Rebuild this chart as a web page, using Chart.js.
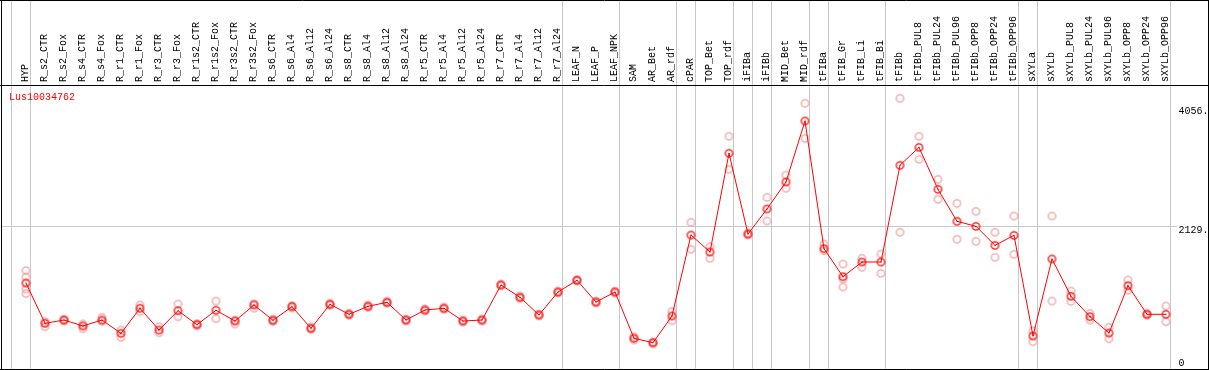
<!DOCTYPE html>
<html>
<head>
<meta charset="utf-8">
<script src="https://cdn.jsdelivr.net/npm/chart.js@4.4.1/dist/chart.umd.min.js"></script>
<style>
  html, body { margin: 0; padding: 0; background: #fff; }
  #wrap { width: 1209px; height: 370px; }
</style>
</head>
<body>
<div id="wrap"><canvas id="chart" width="1209" height="370"></canvas></div>
<script>
// =========================
//  DATA
// =========================
const geneName = "Lus10034762";

const categories = [
    "HYP", "R_s2_CTR", "R_s2_Fox", "R_s4_CTR", "R_s4_Fox", "R_r1_CTR", "R_r1_Fox",
    "R_r3_CTR", "R_r3_Fox", "R_r1s2_CTR", "R_r1s2_Fox", "R_r3s2_CTR", "R_r3s2_Fox",
    "R_s6_CTR", "R_s6_Al4", "R_s6_Al12", "R_s6_Al24", "R_s8_CTR", "R_s8_Al4", "R_s8_Al12",
    "R_s8_Al24", "R_r5_CTR", "R_r5_Al4", "R_r5_Al12", "R_r5_Al24", "R_r7_CTR", "R_r7_Al4",
    "R_r7_Al12", "R_r7_Al24", "LEAF_N", "LEAF_P", "LEAF_NPK", "SAM", "AR_Bet", "AR_rdf",
    "cPAR", "TOP_Bet", "TOP_rdf", "iFIBa", "iFIBb", "MID_Bet", "MID_rdf", "tFIBa",
    "tFIB_Gr", "tFIB_Li", "tFIB_Bi", "tFIBb", "tFIBb_PUL8", "tFIBb_PUL24", "tFIBb_PUL96",
    "tFIBb_OPP8", "tFIBb_OPP24", "tFIBb_OPP96", "sXYLa", "sXYLb", "sXYLb_PUL8",
    "sXYLb_PUL24", "sXYLb_PUL96", "sXYLb_OPP8", "sXYLb_OPP24", "sXYLb_OPP96"
];

// mean expression per sample
const meanValues = [
    1214, 565, 618, 522, 618, 404, 807, 457, 768, 543, 775, 602, 860,
    614, 833, 485, 871, 710, 839, 903, 618, 779, 807, 602, 618,
    1182, 984, 699, 1069, 1258, 908, 1069, 324, 253, 683,
    1987, 1713, 3303, 2003, 2406, 2841, 3823, 1767, 1316, 1552, 1552,
    3110, 3399, 2723, 2208, 2127, 1821, 1982,
    361, 1601, 1000, 672, 409, 1171, 710, 710
];

// individual replicates per sample
const replicateValues = [
    [1415, 1311, 1118, 1045], [591, 510], [630, 602], [554, 478], [662, 597],
    [457, 340], [860, 752], [510, 414], [876, 671], [562, 522], [924, 639],
    [618, 554], [881, 807], [634, 594], [852, 812], [506, 465], [892, 852],
    [731, 691], [860, 820], [924, 884], [634, 602], [796, 763], [828, 787],
    [618, 586], [634, 602], [1198, 1166], [1005, 965], [715, 683], [1085, 1053],
    [1271, 1246], [924, 892], [1085, 1053], [349, 296], [264, 232], [758, 607],
    [2192, 1757], [1799, 1612], [3577, 3045], [2019, 1987], [2594, 2213],
    [2953, 2739], [4108, 3544], [1842, 1734], [1520, 1279, 1150], [1612, 1467],
    [1681, 1370], [4188, 2031], [3577, 3206], [2884, 2562], [2498, 1918],
    [2369, 1886], [2031, 1628], [2293, 1676], [446, 269], [2293, 924],
    [1085, 919], [726, 618], [501, 317], [1262, 1097], [731, 691], [844, 591]
];

// group separators sit right after these sample indexes
const separatorsAfter = [-1, 0, 28, 31, 34, 35, 37, 38, 39, 41, 42, 45, 52, 53, 60];

const yTickValues = [0, 2129, 4056];
const yGridValue = 2129;

// =========================
//  MARKERS
// =========================
function makeMarker(color, dot) {
    const c = document.createElement("canvas");
    c.width = 11;
    c.height = 11;
    const g = c.getContext("2d");
    g.strokeStyle = color;
    g.lineWidth = 1.3;
    g.beginPath();
    g.arc(5.5, 5.5, 3.7, 0, Math.PI * 2);
    g.stroke();
    if (dot) {
        g.fillStyle = dot;
        g.fillRect(5, 5, 1, 1);
    }
    return c;
}

const meanMarker = makeMarker("#ff0000", "#700000");
const repMarker = makeMarker("#f0a0a0", null);

// =========================
//  BUILD POINTS
// =========================
const meanPoints = meanValues.map((v, i) => ({ x: i, y: v }));
const repPoints = [];
replicateValues.forEach((reps, i) => {
    reps.forEach(v => repPoints.push({ x: i, y: v }));
});

const sepSet = new Set(separatorsAfter);
const SEP_SHIFT = 0.221;
const GRID_GRAY = "#c8c8c8";
const MONO = "'Liberation Mono', 'DejaVu Sans Mono', monospace";

// =========================
//  PLUGINS
// =========================
const framePlugin = {
    id: "frame",
    afterDraw(chart) {
        const ctx = chart.ctx;
        const W = chart.width, H = chart.height;
        const top = chart.chartArea.top;
        ctx.save();
        ctx.strokeStyle = "#000";
        ctx.lineWidth = 1;
        ctx.beginPath();
        ctx.moveTo(0, 0.5); ctx.lineTo(W, 0.5);
        ctx.moveTo(0, H - 0.5); ctx.lineTo(W, H - 0.5);
        ctx.moveTo(1.5, 0); ctx.lineTo(1.5, H);
        ctx.moveTo(W - 0.5, 0); ctx.lineTo(W - 0.5, H);
        ctx.moveTo(0, top - 0.5); ctx.lineTo(W, top - 0.5);
        ctx.stroke();

        ctx.fillStyle = "#ff0000";
        ctx.font = "10px " + MONO;
        ctx.textBaseline = "middle";
        ctx.textAlign = "left";
        ctx.fillText(geneName, 9, top + 11);
        ctx.restore();
    }
};

// =========================
//  CHART
// =========================
new Chart(document.getElementById("chart"), {
    type: "line",
    data: {
        datasets: [
            {
                data: meanPoints,
                borderColor: "#ff0000",
                borderWidth: 1,
                pointStyle: meanMarker,
                pointRadius: 4,
                tension: 0
            },
            {
                data: repPoints,
                showLine: false,
                pointStyle: repMarker,
                pointRadius: 4
            }
        ]
    },
    options: {
        responsive: false,
        animation: false,
        devicePixelRatio: 1,
        layout: {
            autoPadding: false,
            padding: { left: 2, right: 0, top: 0, bottom: 1 }
        },
        plugins: {
            legend: { display: false },
            tooltip: { enabled: false }
        },
        scales: {
            x: {
                type: "linear",
                position: "top",
                min: -1.263,
                max: 60.579,
                afterBuildTicks: scale => {
                    scale.ticks = [];
                    for (let i = -1; i < categories.length; i++) {
                        scale.ticks.push({ value: i + SEP_SHIFT });
                    }
                },
                afterFit: scale => {
                    scale.height = 86;
                    scale.paddingLeft = 0;
                    scale.paddingRight = 0;
                },
                border: { display: false },
                grid: {
                    color: c => sepSet.has(c.index - 1) ? GRID_GRAY : "rgba(0,0,0,0)",
                    lineWidth: 1,
                    drawTicks: true,
                    tickLength: 86
                },
                ticks: {
                    autoSkip: false,
                    minRotation: 90,
                    maxRotation: 90,
                    padding: -82,
                    labelOffset: 7,
                    color: "#000",
                    font: { family: MONO, size: 10 },
                    callback: (value, index) => categories[index - 1] || ""
                }
            },
            y: {
                type: "linear",
                position: "right",
                min: -170.7,
                max: 4386.5,
                afterBuildTicks: scale => {
                    scale.ticks = yTickValues.map(v => ({ value: v }));
                },
                afterFit: scale => {
                    scale.width = 32;
                    scale.paddingTop = 0;
                    scale.paddingBottom = 0;
                },
                border: { display: false },
                grid: {
                    color: c => (c.tick && c.tick.value === yGridValue) ? GRID_GRAY : "rgba(0,0,0,0)",
                    drawTicks: false
                },
                ticks: {
                    padding: 1.5,
                    labelOffset: 4.5,
                    color: "#000",
                    font: { family: MONO, size: 10 },
                    callback: v => v === 0 ? "0" : v + "."
                }
            }
        }
    },
    plugins: [framePlugin]
});
</script>
</body>
</html>
